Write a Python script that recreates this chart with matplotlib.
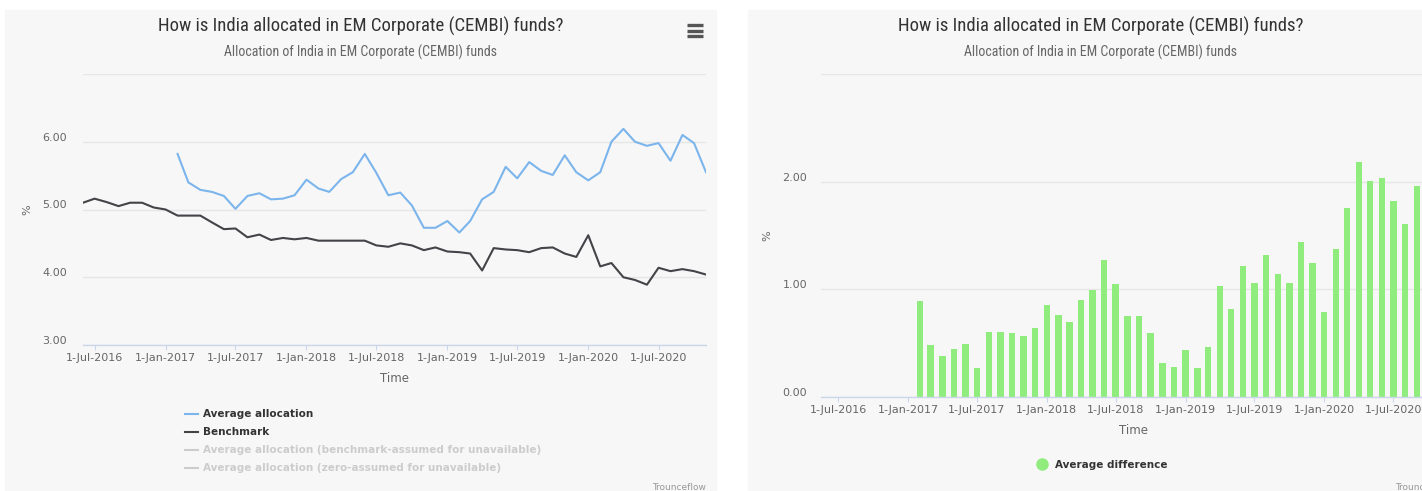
import numpy as np
import pandas as pd
import matplotlib
matplotlib.use("Agg")
import matplotlib.pyplot as plt
import matplotlib.dates as mdates
from matplotlib import font_manager as fm
from matplotlib.transforms import ScaledTranslation
from matplotlib.lines import Line2D
from matplotlib.patches import Rectangle
from matplotlib.ticker import FixedLocator, FuncFormatter

# ---------------- data ----------------
bench_start = "2016-06-01"
avg_start = "2017-02-01"
end_month = "2020-11-01"

benchmark = [5.10, 5.16, 5.11, 5.05, 5.10, 5.10, 5.03, 5.00,
             4.91, 4.91, 4.91, 4.81, 4.71, 4.72, 4.59, 4.63, 4.55, 4.58, 4.56,
             4.58, 4.54, 4.54, 4.54, 4.54, 4.54, 4.47, 4.45, 4.50, 4.47, 4.40,
             4.44, 4.38, 4.37, 4.35, 4.10, 4.43, 4.41, 4.40, 4.37, 4.43, 4.44,
             4.35, 4.30, 4.62, 4.16, 4.21, 4.00, 3.96, 3.89, 4.14, 4.09, 4.12,
             4.09, 4.04]

average_allocation = [5.82, 5.40, 5.29, 5.26, 5.20, 5.01, 5.20, 5.24, 5.15,
                      5.16, 5.21, 5.44, 5.31, 5.26, 5.45, 5.55, 5.82, 5.54,
                      5.21, 5.25, 5.06, 4.73, 4.73, 4.83, 4.66, 4.83, 5.15,
                      5.26, 5.63, 5.46, 5.70, 5.57, 5.51, 5.80, 5.55, 5.43,
                      5.55, 6.00, 6.19, 6.00, 5.94, 5.98, 5.72, 6.10, 5.98,
                      5.55]

average_difference = [0.89, 0.48, 0.38, 0.45, 0.49, 0.27, 0.60, 0.60, 0.59,
                      0.57, 0.64, 0.85, 0.76, 0.70, 0.90, 0.99, 1.27, 1.05,
                      0.75, 0.75, 0.59, 0.32, 0.28, 0.44, 0.27, 0.46, 1.03,
                      0.82, 1.22, 1.06, 1.32, 1.14, 1.06, 1.44, 1.24, 0.79,
                      1.37, 1.76, 2.18, 2.01, 2.03, 1.82, 1.61, 1.96, 1.89,
                      1.51]

legend_labels = ["Average allocation", "Benchmark",
                 "Average allocation (benchmark-assumed for unavailable)",
                 "Average allocation (zero-assumed for unavailable)"]
title_text = "How is India allocated in EM Corporate (CEMBI) funds?"
subtitle_text = "Allocation of India in EM Corporate (CEMBI) funds"

bench_months = pd.date_range(bench_start, end_month, freq="MS")
avg_months = pd.date_range(avg_start, end_month, freq="MS")

# ---------------- fonts ----------------
names = {f.name for f in fm.fontManager.ttflist}
narrow = "DejaVu Sans"
for cand in ["Liberation Sans Narrow", "Roboto Condensed", "Open Sans Condensed",
             "Lato", "Roboto"]:
    if cand in names:
        narrow = cand
        break
plt.rcParams["font.family"] = ["DejaVu Sans"]

W, H = 1422, 491
fig = plt.figure(figsize=(W / 100, H / 100), dpi=100)
fig.patch.set_facecolor("white")

BG = "#f7f7f7"
fig.add_artist(Rectangle((5 / W, 0), (716 - 5) / W, (491 - 10) / H,
                         transform=fig.transFigure, color=BG, zorder=-10))
fig.add_artist(Rectangle((748 / W, 0), (1422 - 748) / W, (491 - 10) / H,
                         transform=fig.transFigure, color=BG, zorder=-10))

def fx(px):
    return px / W

def fy(py):
    return 1 - py / H

def date_fmt(x, pos=None):
    d = mdates.num2date(x)
    return f"{d.day}-{d.strftime('%b')}-{d.year}"

def style_axes(ax, ypad):
    ax.set_facecolor("none")
    for s in ["left", "right", "top"]:
        ax.spines[s].set_visible(False)
    ax.spines["bottom"].set_color("#ccd6eb")
    ax.spines["bottom"].set_linewidth(1)
    ax.spines["bottom"].set_zorder(5)
    ax.grid(axis="y", color="#e6e6e6", linewidth=1)
    ax.set_axisbelow(True)
    ax.xaxis.set_major_locator(mdates.MonthLocator(bymonth=[1, 7]))
    ax.xaxis.set_major_formatter(FuncFormatter(date_fmt))
    ax.tick_params(axis="x", direction="out", length=3.6, width=0.8,
                   color="#ccd6eb", labelcolor="#666666", labelsize=8, pad=2)
    ax.tick_params(axis="y", length=0, labelcolor="#666666", labelsize=8,
                   pad=ypad)
    off = ScaledTranslation(0, 5 / 100, fig.dpi_scale_trans)
    for lab in ax.get_yticklabels():
        lab.set_transform(lab.get_transform() + off)

# ---------------- left chart ----------------
ax1 = fig.add_axes([fx(83), fy(345), fx(706 - 83), (345 - 74) / H])
ax1.plot(avg_months, average_allocation, color="#7cb5ec", lw=1.5, zorder=3)
ax1.plot(bench_months, benchmark, color="#434348", lw=1.5, zorder=3)
ax1.set_xlim(mdates.date2num(pd.Timestamp(bench_start)),
             mdates.date2num(pd.Timestamp(end_month)))
ax1.set_ylim(3, 7)
ax1.yaxis.set_major_locator(FixedLocator([3, 4, 5, 6, 7]))
ax1.yaxis.set_major_formatter(FuncFormatter(lambda v, p: "" if v >= 7 else f"{v:.2f}"))
style_axes(ax1, 11.5)

# ---------------- right chart ----------------
ax2 = fig.add_axes([fx(821), fy(397), fx(1446 - 821), (397 - 74) / H])
ax2.bar(avg_months, average_difference, width=17, color="#90ed7d", zorder=3)
ax2.set_xlim(mdates.date2num(pd.Timestamp(bench_start)) - 15.5,
             mdates.date2num(pd.Timestamp(end_month)) + 15.5)
ax2.set_ylim(0, 3)
ax2.yaxis.set_major_locator(FixedLocator([0, 1, 2, 3]))
ax2.yaxis.set_major_formatter(FuncFormatter(lambda v, p: "" if v >= 3 else f"{v:.2f}"))
style_axes(ax2, 10)

# ---------------- texts ----------------
title_size = 13.5 if narrow != "DejaVu Sans" else 11
sub_size = 10 if narrow != "DejaVu Sans" else 8
for cx in (361, 1101):
    fig.text(fx(cx), fy(26), title_text, family=narrow, fontsize=title_size,
             color="#333333", ha="center", va="center")
    fig.text(fx(cx), fy(52), subtitle_text, family=narrow, fontsize=sub_size,
             color="#666666", ha="center", va="center")

fig.text(fx(27), fy(210), "%", rotation=90, fontsize=8, color="#666666",
         ha="center", va="center")
fig.text(fx(767), fy(236), "%", rotation=90, fontsize=8, color="#666666",
         ha="center", va="center")
fig.text(fx(394.5), fy(378), "Time", fontsize=8.5, color="#666666",
         ha="center", va="center")
fig.text(fx(1133.5), fy(431), "Time", fontsize=8.5, color="#666666",
         ha="center", va="center")

fig.text(fx(706), fy(487), "Trounceflow", fontsize=6.5, color="#999999",
         ha="right", va="center")
fig.text(fx(1395), fy(487), "Trounceflow", fontsize=6.5, color="#999999",
         ha="left", va="center")

# hamburger menu icon
for py in (25, 30.5, 36):
    fig.add_artist(Line2D([fx(687), fx(703)], [fy(py), fy(py)],
                          transform=fig.transFigure, color="#555555",
                          lw=2.4, solid_capstyle="butt"))

# ---------------- legends ----------------
colors = ["#7cb5ec", "#434348", "#cccccc", "#cccccc"]
handles = [Line2D([], [], color=c, lw=1.5) for c in colors]
leg = fig.legend(handles, legend_labels, loc="upper left",
                 bbox_to_anchor=(fx(180), fy(404)), frameon=False,
                 borderpad=0, handlelength=1.2, handletextpad=0.55,
                 labelspacing=0.77, prop={"weight": "bold", "size": 7.5})
for t, c in zip(leg.get_texts(), ["#333333", "#333333", "#cccccc", "#cccccc"]):
    t.set_color(c)

h2 = [Line2D([], [], color="#90ed7d", marker="o", ls="none", markersize=8)]
leg2 = fig.legend(h2, ["Average difference"], loc="center left",
                  bbox_to_anchor=(fx(1032), fy(465)), frameon=False,
                  borderpad=0, handlelength=1.0, handletextpad=0.75,
                  prop={"weight": "bold", "size": 7.5})
leg2.get_texts()[0].set_color("#333333")

fig.savefig("out.png", dpi=100)
